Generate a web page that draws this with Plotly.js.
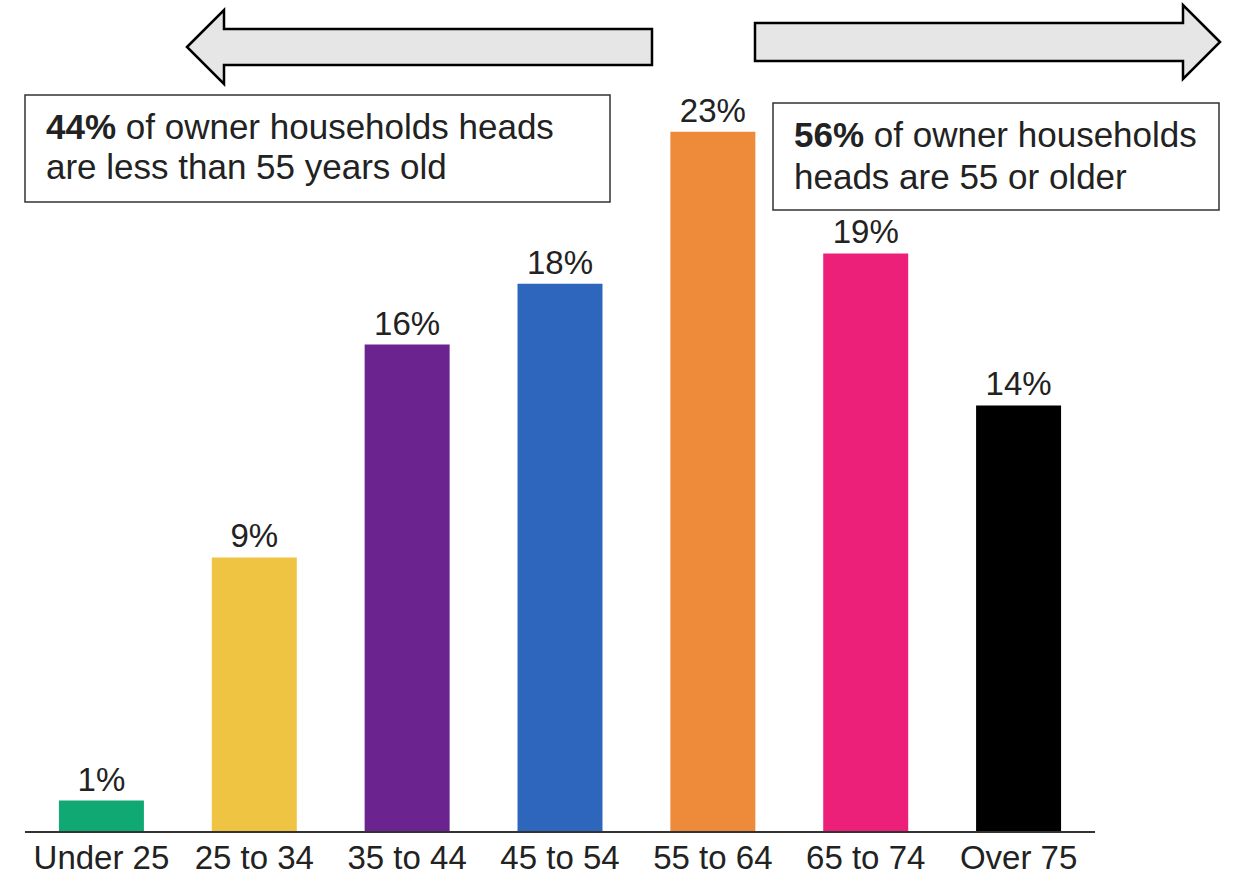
<!DOCTYPE html>
<html>
<head>
<meta charset="utf-8">
<script src="https://cdn.plot.ly/plotly-3.0.1.min.js"></script>
<style>
  html, body { margin: 0; padding: 0; background: #fff; }
  #chart { width: 1242px; height: 878px; }
</style>
</head>
<body>
<div id="chart"></div>
<script>
// Age of owner household heads, share of all owner households (%)
const ageGroups = ['Under 25', '25 to 34', '35 to 44', '45 to 54', '55 to 64', '65 to 74', 'Over 75'];
const sharePct = [1, 9, 16, 18, 23, 19, 14];
const barColors = ['#10a873', '#efc443', '#6b2390', '#2e66be', '#ee8b3b', '#ec2079', '#000000'];

const youngerShare = 44;
const olderShare = 56;
const youngerLines = ['<b>' + youngerShare + '%</b> of owner households heads', 'are less than 55 years old'];
const olderLines = ['<b>' + olderShare + '%</b> of owner households', 'heads are 55 or older'];

// Figure geometry (pixels)
const W = 1242, H = 878;
const M = { l: 25, r: 147, t: 71, b: 47 };
const plotW = W - M.l - M.r;
const plotH = H - M.t - M.b;
const px = x => (x - M.l) / plotW;
const py = y => (H - M.b - y) / plotH;

const FONT = 'Liberation Sans, Arial, sans-serif';
const INK = '#222222';

function arrowPath(points) {
  return 'M ' + points.map(p => px(p[0]).toFixed(5) + ',' + py(p[1]).toFixed(5)).join(' L ') + ' Z';
}

// Left-pointing arrow (younger heads) and right-pointing arrow (older heads)
const leftArrow = arrowPath([
  [187, 47], [224, 10], [224, 29], [652, 29], [652, 65], [224, 65], [224, 84]
]);
const rightArrow = arrowPath([
  [1220, 42], [1183, 5], [1183, 23], [755, 23], [755, 61], [1183, 61], [1183, 79]
]);

// One annotation per text line inside the callout boxes
function boxLine(text, xLeft, yMid) {
  return {
    xref: 'paper', yref: 'paper', x: px(xLeft), y: py(yMid),
    xanchor: 'left', yanchor: 'middle', align: 'left', showarrow: false,
    text: text, font: { family: FONT, size: 35, color: INK }
  };
}

const trace = {
  type: 'bar',
  x: ageGroups,
  y: sharePct,
  marker: { color: barColors, line: { width: 0 } },
  text: sharePct.map(v => v + '%'),
  textposition: 'outside',
  constraintext: 'none',
  cliponaxis: false,
  textfont: { family: FONT, size: 33, color: INK },
  hoverinfo: 'skip'
};

const layout = {
  width: W,
  height: H,
  margin: M,
  paper_bgcolor: '#ffffff',
  plot_bgcolor: '#ffffff',
  showlegend: false,
  bargap: 0.444,
  font: { family: FONT, color: INK },
  xaxis: {
    type: 'category',
    range: [-0.5, 6.5],
    showline: true,
    linecolor: '#333333',
    linewidth: 2,
    ticks: '',
    ticklabelstandoff: -4,
    showgrid: false,
    zeroline: false,
    tickfont: { family: FONT, size: 33, color: INK },
    fixedrange: true
  },
  yaxis: {
    range: [0, 25],
    visible: false,
    showgrid: false,
    zeroline: false,
    fixedrange: true
  },
  shapes: [
    { type: 'path', xref: 'paper', yref: 'paper', path: leftArrow,
      fillcolor: '#e6e6e6', line: { color: '#000000', width: 2.5 }, layer: 'above' },
    { type: 'path', xref: 'paper', yref: 'paper', path: rightArrow,
      fillcolor: '#e6e6e6', line: { color: '#000000', width: 2.5 }, layer: 'above' },
    { type: 'rect', xref: 'paper', yref: 'paper',
      x0: px(25), x1: px(610), y0: py(202), y1: py(95),
      fillcolor: '#ffffff', line: { color: '#333333', width: 1.5 }, layer: 'above' },
    { type: 'rect', xref: 'paper', yref: 'paper',
      x0: px(773), x1: px(1219), y0: py(210), y1: py(103),
      fillcolor: '#ffffff', line: { color: '#333333', width: 1.5 }, layer: 'above' }
  ],
  annotations: [
    boxLine(youngerLines[0], 44, 126.5),
    boxLine(youngerLines[1], 44, 166.5),
    boxLine(olderLines[0], 792, 134.5),
    boxLine(olderLines[1], 792, 176)
  ]
};

Plotly.newPlot('chart', [trace], layout, { displayModeBar: false, staticPlot: true });
</script>
</body>
</html>
